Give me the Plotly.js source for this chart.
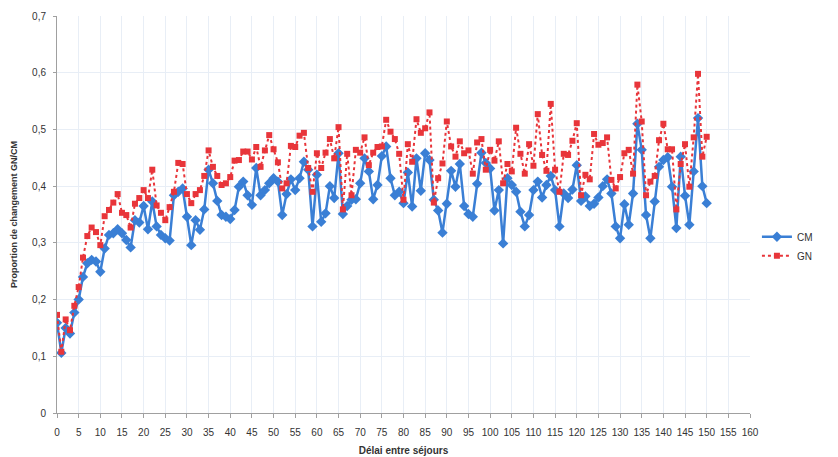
<!DOCTYPE html>
<html><head><meta charset="utf-8">
<script src="https://cdn.plot.ly/plotly-3.0.1.min.js"></script>
<style>body{margin:0;background:#fff}#c{width:838px;height:457px}</style>
</head><body><div id="c"></div>
<script>
const days = Array.from({length:151},(_,i)=>i);
const cm = [0.159,0.106,0.150,0.140,0.177,0.200,0.240,0.264,0.270,0.267,
0.249,0.290,0.314,0.317,0.324,0.317,0.305,0.292,0.340,0.336,
0.365,0.324,0.373,0.329,0.314,0.308,0.304,0.384,0.390,0.396,
0.346,0.296,0.340,0.323,0.359,0.429,0.405,0.374,0.349,0.346,
0.342,0.358,0.399,0.408,0.384,0.367,0.432,0.384,0.393,0.405,
0.414,0.408,0.349,0.386,0.412,0.393,0.414,0.443,0.429,0.329,
0.420,0.337,0.352,0.400,0.379,0.458,0.351,0.365,0.376,0.377,
0.405,0.449,0.426,0.377,0.402,0.453,0.470,0.414,0.384,0.390,
0.370,0.424,0.364,0.449,0.392,0.458,0.446,0.376,0.357,0.318,
0.369,0.427,0.399,0.439,0.365,0.351,0.346,0.404,0.459,0.441,
0.431,0.357,0.393,0.299,0.414,0.402,0.390,0.355,0.329,0.349,
0.393,0.408,0.380,0.402,0.418,0.393,0.329,0.387,0.379,0.394,
0.437,0.374,0.382,0.365,0.369,0.380,0.400,0.412,0.387,0.329,
0.308,0.368,0.332,0.387,0.510,0.464,0.349,0.308,0.373,0.434,
0.446,0.451,0.399,0.326,0.452,0.383,0.332,0.426,0.520,0.400,
0.370];
const gn = [0.173,0.108,0.165,0.146,0.189,0.222,0.274,0.312,0.327,0.319,
0.296,0.347,0.358,0.371,0.386,0.353,0.349,0.327,0.369,0.379,
0.393,0.379,0.429,0.366,0.353,0.340,0.363,0.390,0.441,0.439,
0.386,0.370,0.386,0.393,0.418,0.463,0.434,0.418,0.402,0.405,
0.416,0.445,0.446,0.461,0.461,0.447,0.469,0.434,0.463,0.490,
0.465,0.442,0.396,0.405,0.471,0.469,0.489,0.494,0.432,0.390,
0.458,0.432,0.459,0.483,0.449,0.504,0.359,0.457,0.384,0.464,
0.459,0.486,0.437,0.459,0.469,0.470,0.517,0.496,0.483,0.457,
0.376,0.474,0.443,0.518,0.494,0.502,0.530,0.371,0.414,0.440,
0.514,0.470,0.452,0.479,0.458,0.463,0.422,0.477,0.483,0.429,
0.464,0.445,0.479,0.405,0.439,0.426,0.503,0.457,0.422,0.474,
0.436,0.527,0.455,0.427,0.545,0.429,0.390,0.457,0.455,0.480,
0.511,0.384,0.420,0.412,0.492,0.473,0.476,0.486,0.411,0.396,
0.416,0.458,0.464,0.422,0.579,0.514,0.384,0.408,0.418,0.481,
0.510,0.465,0.465,0.359,0.439,0.474,0.399,0.486,0.598,0.452,
0.487];
const seriesNames = ['CM','GN'];
const xTitle = 'Délai entre séjours';
const yTitle = 'Proportion de changement GN/CM';

const font = {family:'Liberation Sans, Arial, sans-serif', size:10, color:'#333'};
const traces = [
 {x:days, y:cm, name:seriesNames[0], type:'scatter', mode:'lines+markers',
  line:{color:'#3a7fd5', width:2.5}, marker:{symbol:'diamond', size:8, color:'#3a7fd5'}},
 {x:days, y:gn, name:seriesNames[1], type:'scatter', mode:'lines+markers',
  line:{color:'#e8353a', width:2, dash:'dot'}, marker:{symbol:'square', size:6, color:'#e8353a'}}
];
const layout = {
 width:838, height:457, separators:', ',
 margin:{l:57, r:88, t:16, b:44},
 paper_bgcolor:'#fff', plot_bgcolor:'#fff', font:font,
 showlegend:true,
 legend:{x:1.01, xanchor:'left', y:0.42, yanchor:'middle', font:{size:10,color:'#333'}, bgcolor:'rgba(0,0,0,0)', tracegroupgap:2},
 xaxis:{range:[0,160], dtick:5, tick0:0, showgrid:true, gridcolor:'#e8eef6', zeroline:false,
   showline:true, linecolor:'#a0a0a0', ticks:'outside', ticklen:4, tickcolor:'#a0a0a0',
   ticklabelstandoff:6,
   tickfont:{size:10,color:'#333'},
   title:{text:'<b>'+xTitle+'</b>', font:{size:10,color:'#333'}, standoff:9}},
 yaxis:{range:[0,0.7], dtick:0.1, tick0:0, showgrid:true, gridcolor:'#e8eef6', zeroline:false,
   showline:true, linecolor:'#a0a0a0', ticks:'outside', ticklen:3, tickcolor:'#a0a0a0',
   ticklabelstandoff:5,
   tickfont:{size:10,color:'#333'},
   title:{text:'<b>'+yTitle+'</b>', font:{size:9,color:'#333'}, standoff:12}}
};
Plotly.newPlot('c', traces, layout, {displayModeBar:false, staticPlot:true});
</script></body></html>
